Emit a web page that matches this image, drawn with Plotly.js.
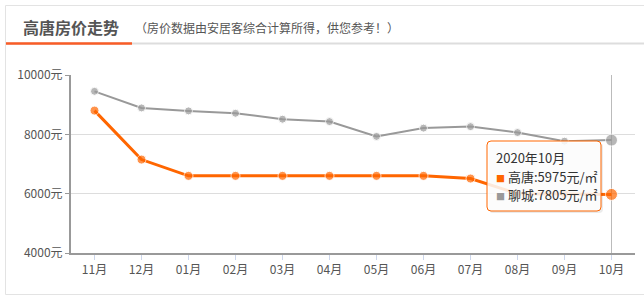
<!DOCTYPE html>
<html>
<head>
<meta charset="utf-8">
<script src="https://cdn.plot.ly/plotly-3.0.1.min.js"></script>
<style>html,body{margin:0;padding:0;background:#fff;}#chart{width:644px;height:303px;}</style>
</head>
<body>
<div id="chart"></div>
<script>
// ---- data ----
const months = ["11月","12月","01月","02月","03月","04月","05月","06月","07月","08月","09月","10月"];
const gaotang = [8800, 7150, 6600, 6600, 6600, 6600, 6600, 6600, 6510, 6000, 5990, 5975];
const liaocheng = [9450, 8890, 8790, 8710, 8510, 8430, 7930, 8210, 8260, 8060, 7770, 7805];
const seriesNames = ["高唐", "聊城"];
const yTicks = [4000, 6000, 8000, 10000];
const titleText = "高唐房价走势";
const subtitleText = "（房价数据由安居客综合计算所得，供您参考！）";
const hoverLabel = "2020年10月";
const unitText = "元/㎡";

// ---- geometry helpers (pixels -> paper) ----
const L = 71, R = 635, T = 75, B = 253;
const W = R - L, H = B - T;
const px = x => (x - L) / W;
const py = y => (B - y) / H;

const ORANGE = "#ff6600", GRAY = "#999999", FONT = "'Noto Sans CJK SC', 'Noto Sans', sans-serif";
const last = months.length - 1;

function roundRect(x0, y0, x1, y1, r) {
  const rx = r / W, ry = r / H;
  const a = px(x0), b = px(x1), c = py(y0), d = py(y1);
  return `M ${a + rx} ${c} L ${b - rx} ${c} Q ${b} ${c} ${b} ${c - ry} L ${b} ${d + ry} Q ${b} ${d} ${b - rx} ${d} ` +
         `L ${a + rx} ${d} Q ${a} ${d} ${a} ${d + ry} L ${a} ${c - ry} Q ${a} ${c} ${a + rx} ${c} Z`;
}

const traces = [
  {
    x: months, y: liaocheng, name: seriesNames[1], type: "scatter", mode: "lines+markers",
    line: {color: GRAY, width: 2},
    marker: {color: GRAY, size: months.map((m, i) => i === last ? 12 : 8)},
    hoverinfo: "skip"
  },
  {
    x: months, y: gaotang, name: seriesNames[0], type: "scatter", mode: "lines+markers",
    line: {color: ORANGE, width: 3},
    marker: {color: ORANGE, size: months.map((m, i) => i === last ? 12 : 9)},
    hoverinfo: "skip"
  }
];

const shapes = [
  {type: "rect", xref: "paper", yref: "paper", x0: px(5.5), x1: px(680), y0: py(294.5), y1: py(5.5),
   line: {color: "#e3e3e3", width: 1}, fillcolor: "rgba(0,0,0,0)", layer: "below"},
  {type: "line", xref: "paper", yref: "paper", x0: px(6), x1: px(680), y0: py(43.5), y1: py(43.5),
   line: {color: "#dddddd", width: 2}},
  {type: "line", xref: "paper", yref: "paper", x0: px(6), x1: px(132), y0: py(43.5), y1: py(43.5),
   line: {color: "#f95c27", width: 2.5}},
  {type: "line", xref: "x", yref: "paper", x0: months[last], x1: months[last], y0: -0.03, y1: 1,
   line: {color: "#bbbbbb", width: 1}, layer: "below"},
  {type: "path", xref: "paper", yref: "paper", path: roundRect(489, 143, 603, 213, 4),
   fillcolor: "rgba(0,0,0,0.08)", line: {width: 0}, layer: "above"},
  {type: "path", xref: "paper", yref: "paper", path: roundRect(487, 141, 601, 211, 4),
   fillcolor: "rgba(255,255,255,0.85)", line: {color: ORANGE, width: 1}, layer: "above"}
];

const sq = c => `<span style="color:${c};font-size:9px">■</span>`;
const annotations = [
  {text: `<b>${titleText}</b>`, xref: "paper", yref: "paper", x: px(21), y: py(27), xanchor: "left", yanchor: "middle",
   showarrow: false, font: {family: FONT, size: 16, color: "#555555"}},
  {text: subtitleText, xref: "paper", yref: "paper", x: px(133), y: py(27), xanchor: "left", yanchor: "middle",
   showarrow: false, font: {family: FONT, size: 12, color: "#555555"}},
  {text: hoverLabel, xref: "paper", yref: "paper", x: px(494), y: py(157), xanchor: "left", yanchor: "middle",
   showarrow: false, font: {family: FONT, size: 13, color: "#333333"}},
  {text: `${sq(ORANGE)} ${seriesNames[0]}:${gaotang[last]}${unitText}`, xref: "paper", yref: "paper", x: px(494), y: py(176),
   xanchor: "left", yanchor: "middle", showarrow: false, font: {family: FONT, size: 13, color: "#333333"}},
  {text: `${sq(GRAY)} ${seriesNames[1]}:${liaocheng[last]}${unitText}`, xref: "paper", yref: "paper", x: px(494), y: py(194),
   xanchor: "left", yanchor: "middle", showarrow: false, font: {family: FONT, size: 13, color: "#333333"}}
];

const layout = {
  width: 644, height: 303,
  margin: {l: L, r: 644 - R, t: T, b: 303 - B, pad: 0},
  paper_bgcolor: "#ffffff", plot_bgcolor: "#ffffff",
  showlegend: false, hovermode: false,
  font: {family: FONT, size: 12, color: "#555555"},
  xaxis: {
    type: "category", range: [-0.5, months.length - 0.5], fixedrange: true,
    showgrid: false, zeroline: false,
    showline: true, linecolor: "#999999", linewidth: 2,
    ticks: "outside", ticklen: 5, tickcolor: "#ccd6eb", tickwidth: 1,
    tickfont: {family: FONT, size: 12, color: "#555555"}
  },
  yaxis: {
    range: [4000, 10000], tickvals: yTicks, ticktext: yTicks.map(v => v + "元"), fixedrange: true,
    showgrid: true, gridcolor: "#dddddd", gridwidth: 1, zeroline: false,
    showline: true, linecolor: "#999999", linewidth: 2,
    ticks: "outside", ticklen: 4, tickcolor: "#999999",
    tickfont: {family: FONT, size: 12, color: "#555555"}
  },
  shapes: shapes,
  annotations: annotations
};

Plotly.newPlot("chart", traces, layout, {displayModeBar: false, staticPlot: true});
</script>
</body>
</html>
